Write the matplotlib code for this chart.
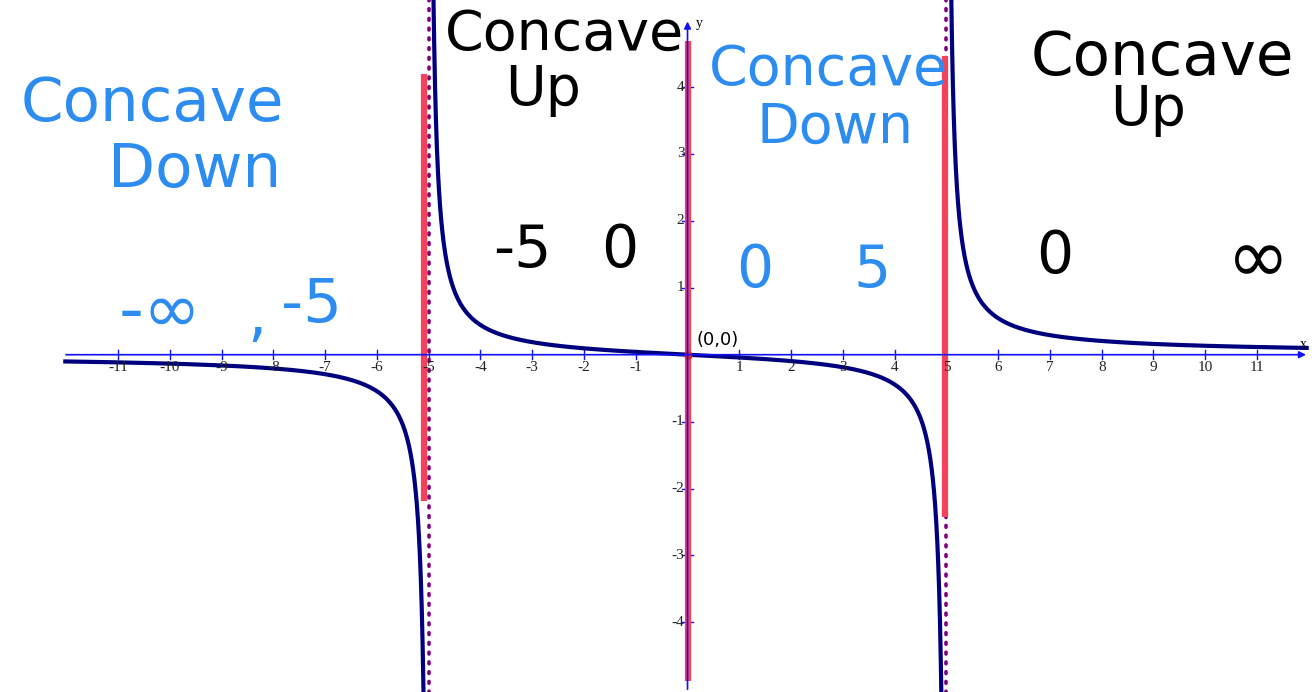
import numpy as np
import matplotlib
matplotlib.use("Agg")
import matplotlib.pyplot as plt

# rational function f(x) = x / (x^2 - 25), vertical asymptotes at x = -5, 5
asymptotes = [-5, 5]
x_window = (-12.06, 12.0)
x_ticks = [t for t in range(-11, 12) if t != 0]
y_ticks = [t for t in range(-4, 5) if t != 0]

# hand-drawn red strokes: (x, top, bottom)
red_strokes = [(-5.09, 4.2, -2.18), (0.0, 4.69, -4.87), (4.97, 4.46, -2.43)]

# handwritten notes: (text, x px, y px, colour, size)
notes = [
    ("Concave", 152, 105, "#2d8cf0", 44), ("Down", 195, 170, "#2d8cf0", 44),
    ("Concave", 565, 35, "black", 40), ("Up", 543, 90, "black", 40),
    ("Concave", 828, 70, "#2d8cf0", 40), ("Down", 835, 128, "#2d8cf0", 40),
    ("Concave", 1162, 58, "black", 44), ("Up", 1148, 110, "black", 40),
    ("-∞", 160, 312, "#2d8cf0", 50), (",", 257, 318, "#2d8cf0", 44),
    ("-5", 312, 306, "#2d8cf0", 44),
    ("-5", 522, 250, "black", 42), ("0", 620, 250, "black", 42),
    ("0", 755, 270, "#2d8cf0", 42), ("5", 872, 270, "#2d8cf0", 42),
    ("0", 1055, 257, "black", 42), ("∞", 1258, 262, "black", 54),
]

W, H = 1315, 692
fig = plt.figure(figsize=(W / 100, H / 100), dpi=100)
ax = fig.add_axes([0, 0, 1, 1])
ax.set_xlim(-13.28, 12.12)
ax.set_ylim(-5.04, 5.30)
ax.axis("off")

blue = "#1010ff"
# axes with arrows
ax.annotate("", xy=(12.0, 0), xytext=(x_window[0], 0),
            arrowprops=dict(arrowstyle="-|>", color=blue, lw=1.2, mutation_scale=10))
ax.annotate("", xy=(0, 5.02), xytext=(0, -5.04),
            arrowprops=dict(arrowstyle="-|>", color=blue, lw=1.2, mutation_scale=10))
ax.text(11.82, 0.06, "x", fontsize=10, family="Liberation Serif", ha="left", va="bottom")
ax.text(0.17, 4.95, "y", fontsize=10, family="Liberation Serif", ha="left", va="center")

for t in x_ticks:
    ax.plot([t, t], [-0.07, 0.07], color=blue, lw=1)
    ax.text(t, -0.09, str(t), fontsize=11, family="Liberation Serif",
            ha="center", va="top", color="#222222")
for t in y_ticks:
    ax.plot([-0.1, 0.1], [t, t], color=blue, lw=1)
    ax.text(-0.06, t, str(t), fontsize=11, family="Liberation Serif",
            ha="right", va="center", color="#222222")

# dotted asymptotes
for a in asymptotes:
    ax.plot([a, a], [-5.1, 5.4], color="#800080", lw=2.6, ls=(0, (0.5, 2.2)),
            dash_capstyle="round")

# red strokes
for x, top, bot in red_strokes:
    ax.plot([x, x], [bot, top], color="#f2435a", lw=4.5, solid_capstyle="butt")

# function branches
edges = [x_window[0], asymptotes[0], asymptotes[1], x_window[1]]
for lo, hi in zip(edges[:-1], edges[1:]):
    xs = np.linspace(lo + 1e-3, hi - 1e-3, 4000)
    ys = xs / (xs ** 2 - 25)
    ax.plot(xs, ys, color="#00007f", lw=3, solid_capstyle="butt")

ax.plot(0, 0, "o", color="#e8202a", ms=5)
ax.text(0.17, 0.08, "(0,0)", fontsize=13, family="DejaVu Sans", ha="left", va="bottom")

for text, px, py, col, size in notes:
    fig.text(px / W, 1 - py / H, text, fontsize=size, color=col, family="DejaVu Sans",
             ha="center", va="center")

fig.savefig("out.png", dpi=100)
